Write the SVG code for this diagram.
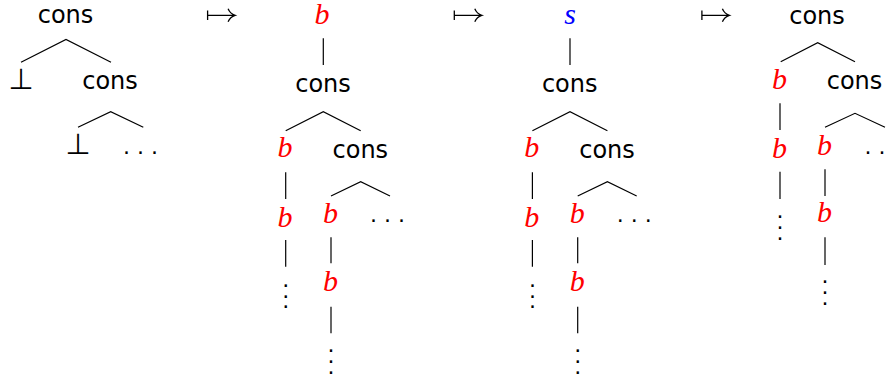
<svg xmlns="http://www.w3.org/2000/svg" width="894" height="383" viewBox="0 0 894 383">
<style>
.sf{font-family:"DejaVu Sans",sans-serif;font-size:24px;fill:#000;text-anchor:middle}
.mi{font-family:"Liberation Serif",serif;font-style:italic;font-size:30px;text-anchor:middle}
.r{fill:#ff0000}
.bl{fill:#0000ff}
.bot{font-family:"DejaVu Sans",sans-serif;font-size:29px;fill:#000;text-anchor:middle}
.dt{font-family:"DejaVu Sans",sans-serif;font-size:22px;fill:#000;text-anchor:middle}
.e{stroke:#000;stroke-width:1.2;fill:none}
.ma{stroke:#000;stroke-width:1.3;fill:none;stroke-linecap:butt}
</style>
<rect width="894" height="383" fill="#fff"/>
<defs>
<g id="mapsto">
<path d="M0,-4.7 V4.7 M0,0 H27.5 M20.5,-6.5 Q22.5,-1.5 27.5,0 Q22.5,1.5 20.5,6.5"/>
</g>
</defs>
<g id="connectors" class="e">
<!-- tree 1 -->
<path d="M21,62.3 L66,39.5 L111,62.3"/>
<path d="M78,127.3 L110.7,111.7 L143.3,127.3"/>
<!-- tree 2 -->
<line x1="323.3" y1="38.3" x2="323.3" y2="65"/>
<path d="M285.7,130.7 L323.3,111.7 L360.7,130.7"/>
<line x1="285.7" y1="172.3" x2="285.7" y2="199"/>
<line x1="285.7" y1="240" x2="285.7" y2="266.7"/>
<path d="M331,196 L360.7,181.7 L390,196"/>
<line x1="331" y1="237.3" x2="331" y2="263.3"/>
<line x1="331" y1="306.7" x2="331" y2="333.3"/>
<!-- tree 3 -->
<line x1="570" y1="38.3" x2="570" y2="65"/>
<path d="M532.4,130.7 L570,111.7 L607.4,130.7"/>
<line x1="532.4" y1="172.3" x2="532.4" y2="199"/>
<line x1="532.4" y1="240" x2="532.4" y2="266.7"/>
<path d="M577.7,196 L607.4,181.7 L636.7,196"/>
<line x1="577.7" y1="237.3" x2="577.7" y2="263.3"/>
<line x1="577.7" y1="306.7" x2="577.7" y2="333.3"/>
<!-- tree 4 -->
<path d="M780.7,61.7 L817.7,42.7 L855,61.7"/>
<line x1="780" y1="103.3" x2="780" y2="130"/>
<line x1="780" y1="171.7" x2="780" y2="199"/>
<path d="M825,127.3 L855,113.3 L885,127.3"/>
<line x1="825" y1="169.3" x2="825" y2="196"/>
<line x1="825" y1="237.3" x2="825" y2="265"/>
</g>
<g id="arrows" class="ma">
<use href="#mapsto" x="207.6" y="15.3"/>
<use href="#mapsto" x="454.3" y="15.3"/>
<use href="#mapsto" x="701.9" y="15.3"/>
</g>
<!-- tree 1 -->
<g id="t1-cons"><text class="sf" x="65.5" y="23">cons</text></g>
<g id="t1-bot1"><text class="bot" x="21" y="88.5">⊥</text></g>
<g id="t1-cons2"><text class="sf" x="110" y="88.5">cons</text></g>
<g id="t1-bot2"><text class="bot" x="78" y="153.5">⊥</text></g>
<g id="t1-dots"><text class="dt" x="140.5" y="154.2">. . .</text></g>
<!-- tree 2 -->
<g id="t2-b0"><text class="mi r" x="322" y="23.5">b</text></g>
<g id="t2-cons"><text class="sf" x="323" y="92">cons</text></g>
<g id="t2-b1"><text class="mi r" x="285" y="157">b</text></g>
<g id="t2-cons2"><text class="sf" x="360.3" y="158">cons</text></g>
<g id="t2-b2"><text class="mi r" x="285" y="226.5">b</text></g>
<g id="t2-vd1"><text class="dt"><tspan x="285.7" y="286.5">.</tspan><tspan x="285.7" y="297.5">.</tspan><tspan x="285.7" y="308.2">.</tspan></text></g>
<g id="t2-b3"><text class="mi r" x="330.5" y="223">b</text></g>
<g id="t2-dots"><text class="dt" x="387.5" y="222.2">. . .</text></g>
<g id="t2-b4"><text class="mi r" x="330.5" y="291">b</text></g>
<g id="t2-vd2"><text class="dt"><tspan x="331" y="352.2">.</tspan><tspan x="331" y="363.2">.</tspan><tspan x="331" y="373.8">.</tspan></text></g>
<!-- tree 3 -->
<g id="t3-s"><text class="mi bl" x="570" y="23.5">s</text></g>
<g id="t3-cons"><text class="sf" x="569.7" y="92">cons</text></g>
<g id="t3-b1"><text class="mi r" x="531.7" y="157">b</text></g>
<g id="t3-cons2"><text class="sf" x="607" y="158">cons</text></g>
<g id="t3-b2"><text class="mi r" x="531.7" y="226.5">b</text></g>
<g id="t3-vd1"><text class="dt"><tspan x="532.4" y="286.5">.</tspan><tspan x="532.4" y="297.5">.</tspan><tspan x="532.4" y="308.2">.</tspan></text></g>
<g id="t3-b3"><text class="mi r" x="577.2" y="223">b</text></g>
<g id="t3-dots"><text class="dt" x="634.2" y="222.2">. . .</text></g>
<g id="t3-b4"><text class="mi r" x="577.2" y="291">b</text></g>
<g id="t3-vd2"><text class="dt"><tspan x="577.7" y="352.2">.</tspan><tspan x="577.7" y="363.2">.</tspan><tspan x="577.7" y="373.8">.</tspan></text></g>
<!-- tree 4 -->
<g id="t4-cons"><text class="sf" x="817" y="24">cons</text></g>
<g id="t4-b1"><text class="mi r" x="779.5" y="89">b</text></g>
<g id="t4-cons2"><text class="sf" x="854.5" y="89">cons</text></g>
<g id="t4-b2"><text class="mi r" x="779.5" y="158">b</text></g>
<g id="t4-vd1"><text class="dt"><tspan x="780" y="218.2">.</tspan><tspan x="780" y="229.2">.</tspan><tspan x="780" y="239.8">.</tspan></text></g>
<g id="t4-b3"><text class="mi r" x="824.5" y="155">b</text></g>
<g id="t4-dots"><text class="dt" x="882" y="154.2">. . .</text></g>
<g id="t4-b4"><text class="mi r" x="824.5" y="222">b</text></g>
<g id="t4-vd2"><text class="dt"><tspan x="825" y="283.2">.</tspan><tspan x="825" y="294.2">.</tspan><tspan x="825" y="304.8">.</tspan></text></g>
</svg>
